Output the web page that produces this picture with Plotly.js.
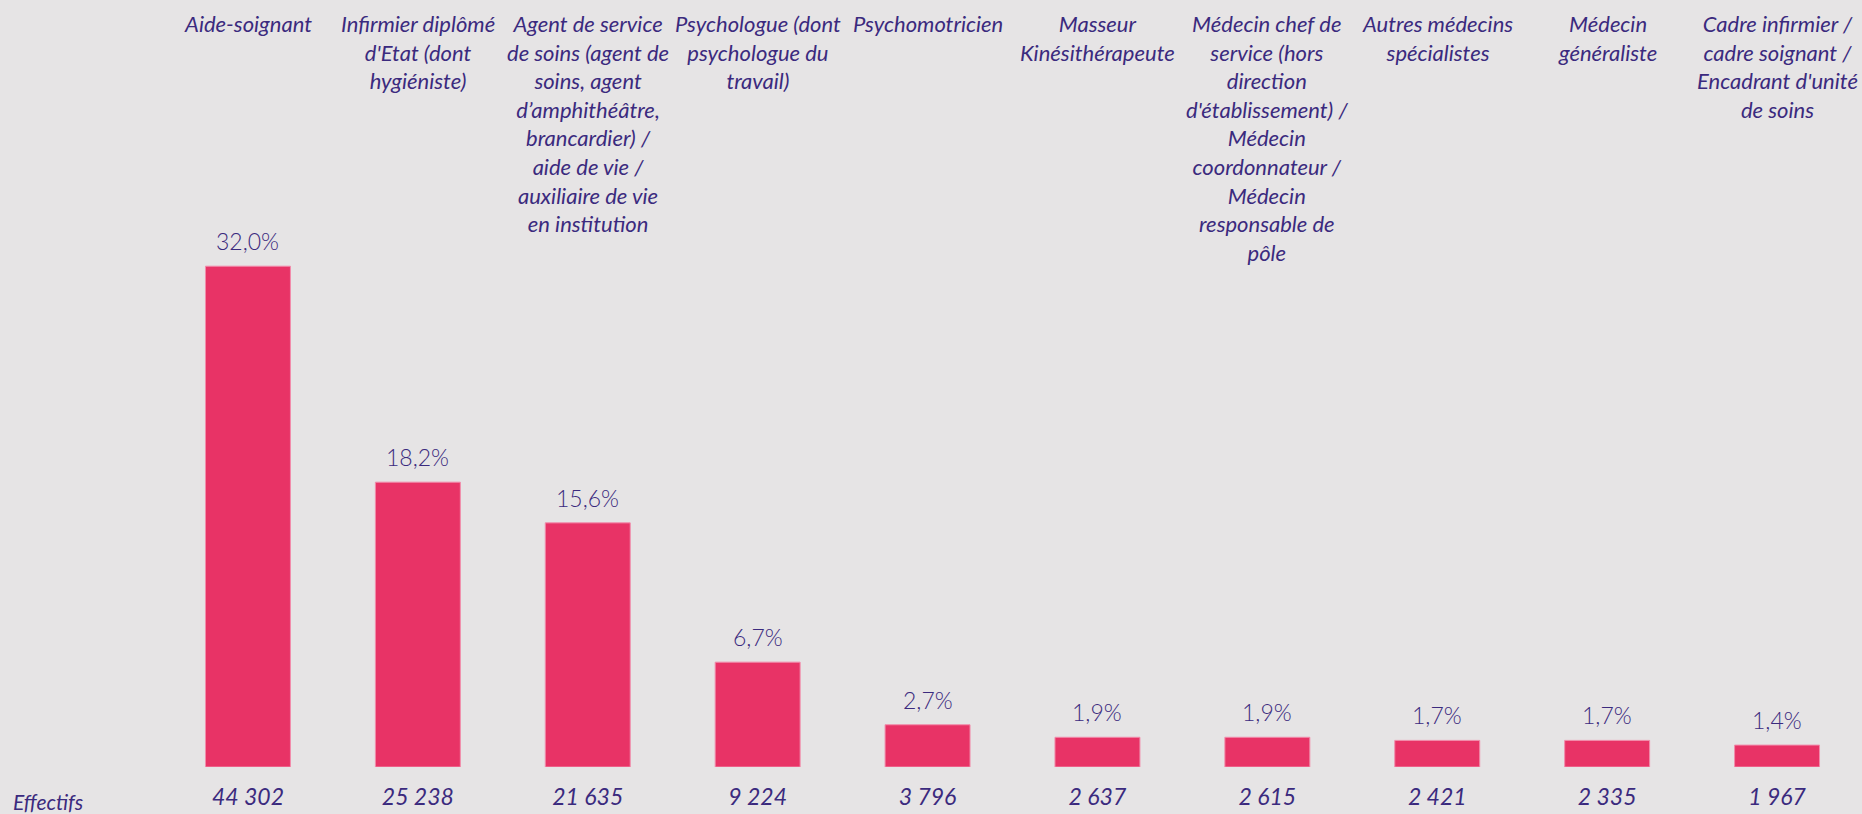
<!DOCTYPE html>
<html>
<head>
<meta charset="utf-8">
<script src="https://cdn.plot.ly/plotly-3.0.1.min.js"></script>
<style>
  html, body { margin: 0; padding: 0; background: #e6e4e5; }
  #chart { width: 1862px; height: 814px; }
</style>
</head>
<body>
<div id="chart"></div>
<script>
// ---- Data ----
const categories = [
  "Aide-soignant",
  "Infirmier diplômé<br>d'Etat (dont<br>hygiéniste)",
  "Agent de service<br>de soins (agent de<br>soins, agent<br>d’amphithéâtre,<br>brancardier) /<br>aide de vie /<br>auxiliaire de vie<br>en institution",
  "Psychologue (dont<br>psychologue du<br>travail)",
  "Psychomotricien",
  "Masseur<br>Kinésithérapeute",
  "Médecin chef de<br>service (hors<br>direction<br>d'établissement) /<br>Médecin<br>coordonnateur /<br>Médecin<br>responsable de<br>pôle",
  "Autres médecins<br>spécialistes",
  "Médecin<br>généraliste",
  "Cadre infirmier /<br>cadre soignant /<br>Encadrant d'unité<br>de soins"
];
const percentages = [32.0, 18.2, 15.6, 6.7, 2.7, 1.9, 1.9, 1.7, 1.7, 1.4];
const effectifs = [44302, 25238, 21635, 9224, 3796, 2637, 2615, 2421, 2335, 1967];
const rowLabel = "Effectifs";

// ---- Styling ----
const textColor = "#3b2a7e";
const barColor = "#e83366";
const bg = "#e6e4e5";
const fontFam = "Lato, 'Open Sans', sans-serif";

const xIdx = categories.map((_, i) => i);
const fmtPct = v => v.toFixed(1).replace(".", ",") + "%";
const fmtNum = v => String(v).replace(/\B(?=(\d{3})+(?!\d))/g, " ");

const trace = {
  type: "bar",
  x: xIdx,
  y: percentages,
  width: 0.5,
  marker: { color: barColor, line: { color: "#f28cab", width: 1 } },
  hoverinfo: "skip"
};

const annotations = [];
categories.forEach((c, i) => {
  annotations.push({
    x: i, xref: "x", y: 1, yref: "paper",
    yanchor: "top", xanchor: "center", yshift: 133,
    text: "<i>" + c + "</i>", showarrow: false, align: "center",
    font: { family: fontFam, size: 22, color: textColor }
  });
  annotations.push({
    x: i, xref: "x", y: percentages[i], yref: "y",
    yanchor: "bottom", xanchor: "center", yshift: 9,
    text: fmtPct(percentages[i]), showarrow: false,
    font: { family: fontFam, size: 23, color: textColor, weight: 300 }
  });
});
annotations.push({
  x: 0, xref: "paper", y: 0, yref: "paper",
  xanchor: "left", yanchor: "middle", xshift: -152, yshift: -34,
  text: "<i>" + rowLabel + "</i>", showarrow: false,
  font: { family: fontFam, size: 21, color: textColor }
});

const layout = {
  width: 1862, height: 814,
  paper_bgcolor: bg, plot_bgcolor: bg,
  margin: { l: 163, r: 0, t: 141, b: 47 },
  showlegend: false,
  bargap: 0.5,
  xaxis: {
    range: [-0.5, categories.length - 0.5],
    tickmode: "array",
    tickvals: xIdx,
    ticktext: effectifs.map(v => "<i>" + fmtNum(v) + "</i>"),
    tickfont: { family: fontFam, size: 23, color: textColor },
    ticks: "", showline: false, showgrid: false, zeroline: false,
    ticklabelstandoff: 14
  },
  yaxis: {
    range: [0, 40],
    visible: false, showgrid: false, zeroline: false
  },
  annotations: annotations
};

Plotly.newPlot("chart", [trace], layout, { displayModeBar: false, staticPlot: true });
</script>
</body>
</html>
